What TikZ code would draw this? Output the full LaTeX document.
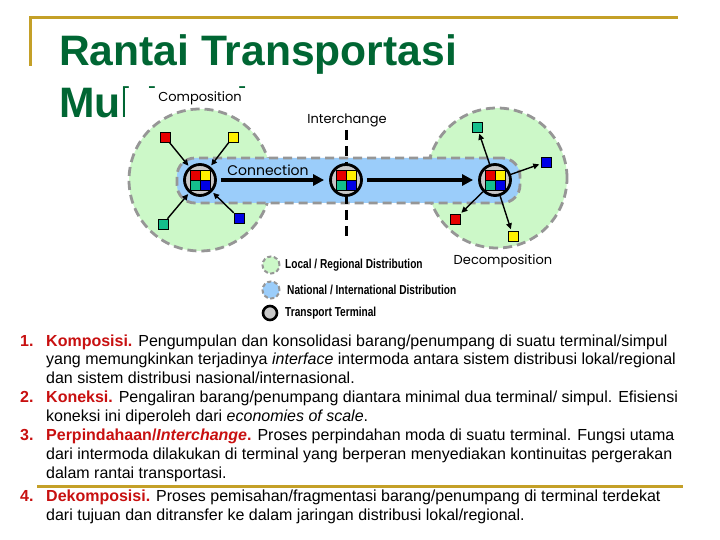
\documentclass[tikz,border=0pt]{standalone}
\usepackage{fontspec}
\setmainfont{Liberation Sans}
\newfontfamily\diagfont{Poppins}
\newfontfamily\legfont[FakeStretch=0.78]{Liberation Sans}
\usetikzlibrary{arrows.meta}
\definecolor{gold}{RGB}{196,160,40}
\definecolor{titlegreen}{RGB}{0,102,51}
\definecolor{itemred}{RGB}{200,16,16}
\definecolor{locgreen}{RGB}{204,248,200}
\definecolor{natblue}{RGB}{155,205,250}
\definecolor{dashgray}{RGB}{150,150,150}
\definecolor{termgray}{RGB}{200,200,200}
\definecolor{sqred}{RGB}{230,0,0}
\definecolor{sqyellow}{RGB}{255,240,0}
\definecolor{sqteal}{RGB}{20,190,140}
\definecolor{sqblue}{RGB}{0,0,230}
\newcommand{\itemlab}[1]{\textcolor{itemred}{\bfseries #1}}
\newcommand{\quadsq}[1]{%
  \filldraw[fill=sqred,draw=black,line width=0.6pt] ([shift={(-10,-10)}]#1.center) rectangle ([shift={(0,0)}]#1.center);
  \filldraw[fill=sqyellow,draw=black,line width=0.6pt] ([shift={(0,-10)}]#1.center) rectangle ([shift={(10,0)}]#1.center);
  \filldraw[fill=sqteal,draw=black,line width=0.6pt] ([shift={(-10,0)}]#1.center) rectangle ([shift={(0,10)}]#1.center);
  \filldraw[fill=sqblue,draw=black,line width=0.6pt] ([shift={(0,0)}]#1.center) rectangle ([shift={(10,10)}]#1.center);}
\begin{document}
\begin{tikzpicture}[x=1pt,y=-1pt,
  goldline/.style={draw=gold,line width=3pt},
  zone/.style={draw=dashgray,line width=2.8pt,dash pattern=on 9pt off 5pt},
  terminal/.style={circle,draw=black,fill=termgray,line width=2.8pt,minimum size=31pt,inner sep=0pt},
  sq/.style={rectangle,draw=black,line width=0.6pt,minimum size=10pt,inner sep=0pt},
  smallarrow/.style={draw=black,line width=1.4pt,-{Triangle[length=6pt,width=5.5pt]},shorten >=1.5pt},
  bigarrow/.style={draw=black,line width=3.2pt,-{Triangle[length=11pt,width=11pt]},shorten <=4pt,shorten >=5pt},
  diaglabel/.style={font=\diagfont\fontsize{13}{15}\selectfont,inner sep=0pt},
  legtext/.style={font=\legfont\bfseries\fontsize{13}{15}\selectfont,anchor=west,inner sep=0pt},
  body/.style={font=\fontsize{16}{19}\selectfont,anchor=base west,inner sep=0pt},
  num/.style={body,text=itemred,font=\bfseries\fontsize{16}{19}\selectfont},
  titletext/.style={anchor=base west,text=titlegreen,font=\bfseries\fontsize{42.6}{48}\selectfont,inner sep=0pt}]
\useasboundingbox (0,0) rectangle (720,540);
\fill[white] (0,0) rectangle (720,540);

% frame lines
\draw[goldline] (29,18) -- (678,18);
\draw[goldline] (30,18) -- (30,66);

% title
\node[titletext] (title1) at (59,65.5) {Rantai Transportasi};
\node[titletext] (title2) at (59,118) {Multimoda};
\fill[white] (125,88.5) rectangle (575,332);

% zones
\node[circle,minimum size=142pt,fill=locgreen,zone] (lzone) at (200,180) {};
\node[circle,minimum size=140pt,fill=locgreen,zone] (rzone) at (497,178) {};
\node[rectangle,rounded corners=18pt,minimum width=343pt,minimum height=45pt,fill=natblue,zone] (nzone) at (348.5,180.5) {};

% interchange line
\coordinate (ictop) at (346,130);
\coordinate (icbot) at (346,242);
\draw[black,line width=3pt,dash pattern=on 10pt off 6pt] (ictop) -- (icbot);

% terminals
\node[terminal] (tl) at (200,180) {};
\node[terminal] (tm) at (346,180) {};
\node[terminal] (tr) at (495,180) {};
\quadsq{tl}
\quadsq{tm}
\quadsq{tr}

% small squares
\node[sq,fill=sqred] (lr) at (165,137) {};
\node[sq,fill=sqyellow] (ly) at (233,137) {};
\node[sq,fill=sqteal] (lt) at (163,224) {};
\node[sq,fill=sqblue] (lb) at (239,218) {};
\node[sq,fill=sqteal] (rt) at (477,127) {};
\node[sq,fill=sqblue] (rb) at (546,162) {};
\node[sq,fill=sqred] (rr) at (455,219) {};
\node[sq,fill=sqyellow] (ry) at (513,236) {};

\draw[smallarrow] (lr) -- (tl);
\draw[smallarrow] (ly) -- (tl);
\draw[smallarrow] (lt) -- (tl);
\draw[smallarrow] (lb) -- (tl);
\draw[smallarrow] (tr) -- (rt);
\draw[smallarrow] (tr) -- (rb);
\draw[smallarrow] (tr) -- (rr);
\draw[smallarrow] (tr) -- (ry);

\draw[bigarrow] (tl) -- (tm);
\draw[bigarrow] (tm) -- (tr);

% labels
\node[diaglabel] (lcomp) at (200,98) {Composition};
\node[diaglabel] (linter) at (347,120) {Interchange};
\node[diaglabel,font=\diagfont\fontsize{14}{16}\selectfont] (lconn) at (268,170) {Connection};
\node[diaglabel] (ldecomp) at (503,261) {Decomposition};

% legend
\node[circle,minimum size=17pt,inner sep=0pt,fill=locgreen,draw=dashgray,line width=2pt,dash pattern=on 4pt off 2.5pt] (kg) at (271,265) {};
\node[circle,minimum size=17pt,inner sep=0pt,fill=natblue,draw=dashgray,line width=2pt,dash pattern=on 4pt off 2.5pt] (kb) at (271,290) {};
\node[circle,minimum size=14pt,inner sep=0pt,fill=termgray,draw=black,line width=2.6pt] (kt) at (270,313) {};
\node[legtext] (kgt) at (285,265) {Local / Regional Distribution};
\node[legtext] (kbt) at (287,290) {National / International Distribution};
\node[legtext] (ktt) at (285,313) {Transport Terminal};

% body text
\node[num] (n1) at (20,346.5) {1.};
\node[body] (b1a) at (46,346.5) {\itemlab{Komposisi.} Pengumpulan dan konsolidasi barang/penumpang di suatu terminal/simpul};
\node[body] (b1b) at (46,364.5) {yang memungkinkan terjadinya \textit{interface} intermoda antara sistem distribusi lokal/regional};
\node[body] (b1c) at (46,383.5) {dan sistem distribusi nasional/internasional.};
\node[num] (n2) at (20,402.5) {2.};
\node[body] (b2a) at (46,402.5) {\itemlab{Koneksi.} Pengaliran barang/penumpang diantara minimal dua terminal/ simpul. Efisiensi};
\node[body] (b2b) at (46,421.5) {koneksi ini diperoleh dari \textit{economies of scale}.};
\node[num] (n3) at (20,440.5) {3.};
\node[body] (b3a) at (46,440.5) {\itemlab{Perpindahaan/\textit{Interchange}.} Proses perpindahan moda di suatu terminal. Fungsi utama};
\node[body] (b3b) at (46,459.5) {dari intermoda dilakukan di terminal yang berperan menyediakan kontinuitas pergerakan};
\node[body] (b3c) at (46,478.5) {dalam rantai transportasi.};
\node[num] (n4) at (20,501) {4.};
\node[body] (b4a) at (46,501) {\itemlab{Dekomposisi.} Proses pemisahan/fragmentasi barang/penumpang di terminal terdekat};
\node[body] (b4b) at (46,520) {dari tujuan dan ditransfer ke dalam jaringan distribusi lokal/regional.};

% bottom rule
\draw[goldline] (37,486) -- (683,486);
\end{tikzpicture}
\end{document}
